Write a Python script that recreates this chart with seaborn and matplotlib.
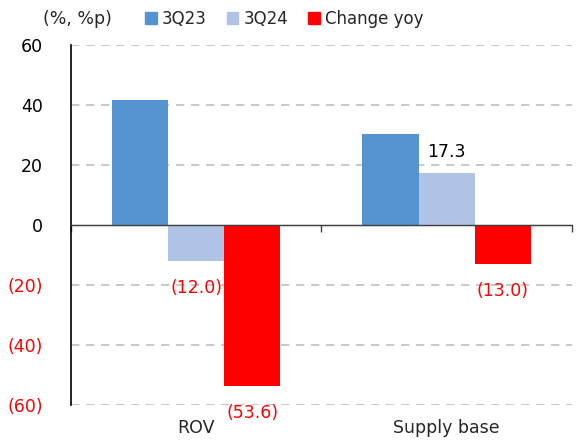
import pandas as pd
import matplotlib
matplotlib.use("Agg")
import matplotlib.pyplot as plt
import seaborn as sns
from matplotlib.patches import Patch

# -------------------- Data --------------------
categories = ["ROV", "Supply base"]
series = ["3Q23", "3Q24", "Change yoy"]
q3_23 = [41.6, 30.3]
q3_24 = [-12.0, 17.3]
change_yoy = [-53.6, -13.0]
# which bar values get a label (as in the source chart)
shown_labels = {"3Q23": [False, False], "3Q24": [True, True], "Change yoy": [True, True]}
y_ticks = [-60, -40, -20, 0, 20, 40, 60]

colors = {"3Q23": "#5592D0", "3Q24": "#AEC3E6", "Change yoy": "#FF0000"}


def fmt(v):
    return f"({abs(v):.1f})" if v < 0 else f"{v:.1f}"


def fmt_tick(v):
    return f"({abs(v):.0f})" if v < 0 else f"{v:.0f}"


df = pd.DataFrame({
    "category": categories * 3,
    "series": ["3Q23"] * 2 + ["3Q24"] * 2 + ["Change yoy"] * 2,
    "value": q3_23 + q3_24 + change_yoy,
})

# -------------------- Plot --------------------
sns.set_style("white")
plt.rcParams["font.family"] = ["DejaVu Sans"]
fs = 12.5

fig = plt.figure(figsize=(5.76, 4.46), dpi=100)
ax = fig.add_axes([0.123, 0.092, 0.870, 0.807])

sns.barplot(data=df, x="category", y="value", hue="series", order=categories,
            hue_order=series, palette=colors, width=0.672, gap=0,
            saturation=1, linewidth=0, ax=ax, legend=False)

ax.set_xlim(-0.5, 1.5)
ax.set_ylim(-60, 60)

# bar labels: negatives sit a bit further from the bar end
for cont, name in zip(ax.containers, series):
    vals = df[df["series"] == name]["value"].tolist()
    shows = shown_labels[name]
    neg = [fmt(v) if (s and v < 0) else "" for v, s in zip(vals, shows)]
    pos = [fmt(v) if (s and v >= 0) else "" for v, s in zip(vals, shows)]
    ax.bar_label(cont, labels=neg, padding=13, fontsize=fs, color="red")
    ax.bar_label(cont, labels=pos, padding=9, fontsize=fs, color="black")

# grid
for y in y_ticks:
    if y != 0:
        ax.axhline(y, color="#BFBFBF", lw=1.2, ls=(0, (5, 4)), zorder=0)
ax.axhline(0, color="#404040", lw=1.0, zorder=3)

# y axis
ax.set_yticks(y_ticks)
ax.set_yticklabels([fmt_tick(v) for v in y_ticks], fontsize=fs)
for lab, v in zip(ax.get_yticklabels(), y_ticks):
    lab.set_color("red" if v < 0 else "black")
ax.tick_params(axis="y", direction="in", length=5, width=1, color="black", pad=20)

# x axis labels at bottom, no ticks
ax.tick_params(axis="x", length=0, labelsize=fs, pad=10)
ax.set_xlabel("")
ax.set_ylabel("")

for s in ["top", "right", "bottom"]:
    ax.spines[s].set_visible(False)
ax.spines["left"].set_color("black")
ax.spines["left"].set_linewidth(1.2)

# category boundary ticks on the zero line
sec = ax.secondary_xaxis(0.5)
sec.set_xticks([-0.5, 0.5, 1.5])
sec.set_xticklabels([])
sec.tick_params(direction="in", length=5, width=1, color="#404040")
sec.spines["bottom"].set_visible(False)

# legend
fig.text(0.075, 0.958, "(%, %p)", fontsize=fs, va="center", ha="left")
handles = [Patch(color=colors[s], label=s) for s in series]
fig.legend(handles=handles, loc="center left", bbox_to_anchor=(0.252, 0.958),
           ncol=3, frameon=False, fontsize=12, handlelength=0.7, handleheight=0.7,
           handletextpad=0.3, columnspacing=1.2, borderaxespad=0, borderpad=0)

fig.savefig("out.png", dpi=100)
plt.close(fig)
